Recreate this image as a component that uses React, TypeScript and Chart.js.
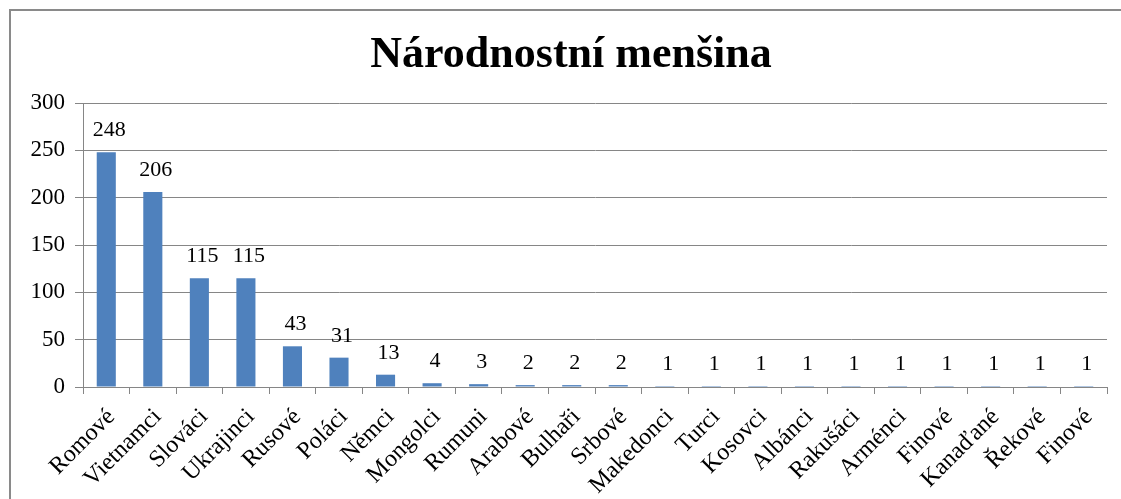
import React, { useEffect, useRef } from "react";
import { Chart, registerables } from "chart.js";

Chart.register(...registerables);

const chartTitle = "Národnostní menšina";
const categories = [
  "Romové", "Vietnamci", "Slováci", "Ukrajinci", "Rusové", "Poláci", "Němci",
  "Mongolci", "Rumuni", "Arabové", "Bulhaři", "Srbové", "Makedonci", "Turci",
  "Kosovci", "Albánci", "Rakušáci", "Arménci", "Finové", "Kanaďané", "Řekové", "Finové",
];
const values = [248, 206, 115, 115, 43, 31, 13, 4, 3, 2, 2, 2, 1, 1, 1, 1, 1, 1, 1, 1, 1, 1];
const yTicks = [0, 50, 100, 150, 200, 250, 300];

const FONT = "'Liberation Serif', 'Times New Roman', serif";

const framePlugin = {
  id: "frame",
  beforeDraw(chart: any) {
    const ctx = chart.ctx;
    ctx.save();
    ctx.fillStyle = "#fff";
    ctx.fillRect(0, 0, chart.width, chart.height);
    ctx.strokeStyle = "#8a8a8a";
    ctx.lineWidth = 2;
    ctx.beginPath();
    ctx.moveTo(10, chart.height + 10);
    ctx.lineTo(10, 10);
    ctx.lineTo(chart.width + 10, 10);
    ctx.stroke();
    ctx.restore();
  },
};

const titlePlugin = {
  id: "customTitle",
  afterDraw(chart: any) {
    const ctx = chart.ctx;
    ctx.save();
    ctx.font = `bold 44px ${FONT}`;
    ctx.fillStyle = "#000";
    ctx.textAlign = "center";
    ctx.textBaseline = "alphabetic";
    ctx.fillText(chartTitle, 571, 67);
    ctx.restore();
  },
};

const labelPlugin = {
  id: "valueLabels",
  afterDatasetsDraw(chart: any) {
    const ctx = chart.ctx;
    const meta = chart.getDatasetMeta(0);
    ctx.save();
    ctx.font = `22px ${FONT}`;
    ctx.fillStyle = "#000";
    ctx.textAlign = "center";
    ctx.textBaseline = "alphabetic";
    meta.data.forEach((bar: any, i: number) => {
      ctx.fillText(String(values[i]), bar.x + 3, bar.y - 16);
    });
    ctx.restore();
  },
};

export default function App() {
  const ref = useRef<HTMLCanvasElement>(null);
  useEffect(() => {
    if (!ref.current) return;
    const chart = new Chart(ref.current, {
      type: "bar",
      data: {
        labels: categories,
        datasets: [
          {
            data: values,
            backgroundColor: "#4F81BD",
            barPercentage: 0.41,
            categoryPercentage: 1,
          },
        ],
      },
      options: {
        responsive: false,
        animation: false,
        layout: { padding: { top: 103, right: 14, left: 0, bottom: 0 } },
        plugins: {
          legend: { display: false },
          title: { display: false },
          tooltip: { enabled: false },
        },
        scales: {
          x: {
            grid: {
              offset: true,
              drawOnChartArea: false,
              drawTicks: true,
              tickLength: 7,
              color: "#868686",
            },
            border: { display: true, color: "#868686", width: 1 },
            ticks: {
              color: "#000",
              font: { family: FONT, size: 24 },
              minRotation: 45,
              maxRotation: 45,
              autoSkip: false,
              padding: 9,
              labelOffset: 5,
            },
            afterFit(scale: any) {
              scale.height = 112;
            },
          },
          y: {
            min: 0,
            max: 300,
            afterBuildTicks(scale: any) {
              scale.ticks = yTicks.map((v) => ({ value: v }));
            },
            grid: {
              color: "#868686",
              drawTicks: true,
              tickLength: 8,
            },
            border: { display: true, color: "#868686", width: 1 },
            ticks: {
              color: "#000",
              font: { family: FONT, size: 23 },
              padding: 10,
            },
            afterFit(scale: any) {
              scale.width = 83;
            },
          },
        },
      },
      plugins: [framePlugin, titlePlugin, labelPlugin],
    });
    return () => chart.destroy();
  }, []);

  return (
    <div style={{ position: "fixed", left: 0, top: 0, width: 1121, height: 499, background: "#fff", overflow: "hidden" }}>
      <canvas ref={ref} width={1121} height={499} style={{ position: "absolute", left: 0, top: 0, display: "block" }} />
    </div>
  );
}
